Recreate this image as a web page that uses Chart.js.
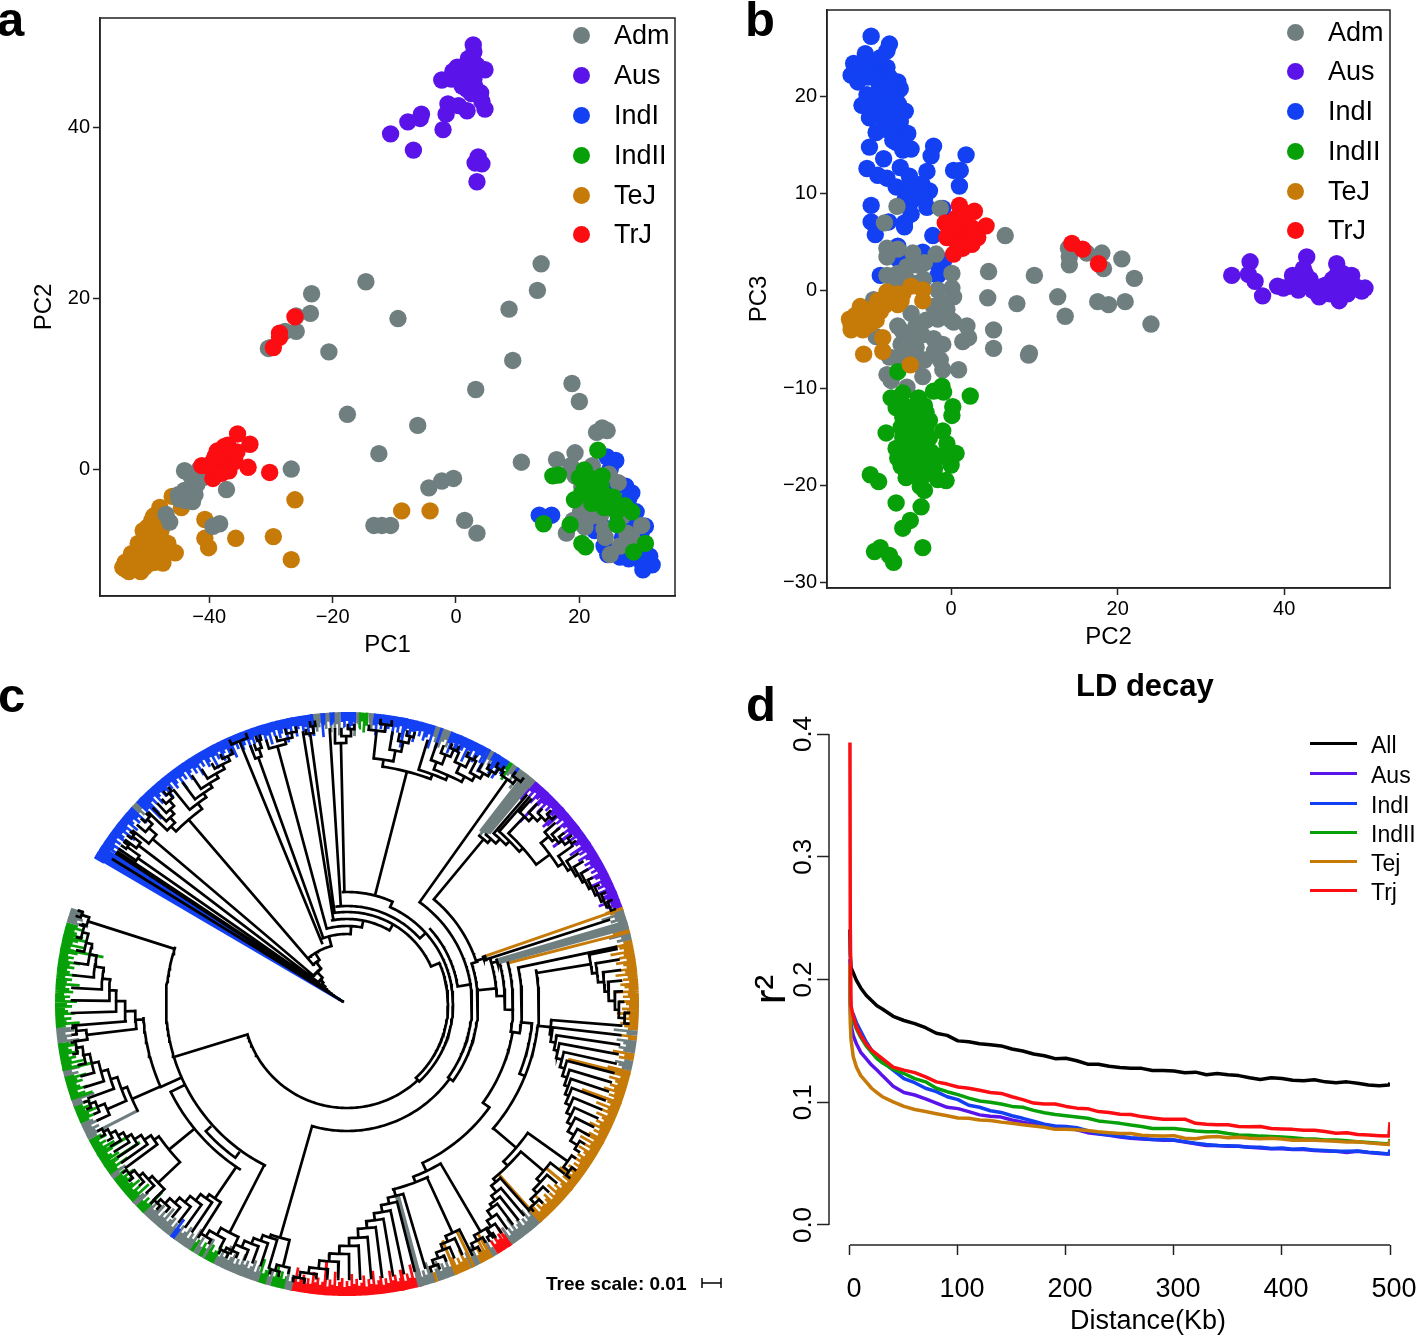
<!DOCTYPE html>
<html>
<head>
<meta charset="utf-8">
<title>Rice population structure</title>
<script src="https://cdn.jsdelivr.net/npm/chart.js@4/dist/chart.umd.min.js"></script>
<style>
    html, body { margin: 0; padding: 0; background: #fff; overflow: hidden; }
    body { position: relative; width: 1418px; height: 1335px; font-family: "Liberation Sans", Arial, sans-serif; color: #000; }
    canvas { position: absolute; }
    .txt { position: absolute; line-height: 1; white-space: nowrap; }
    .dot { position: absolute; width: 17px; height: 17px; border-radius: 50%; }
    .dash { position: absolute; width: 47px; height: 3px; }
</style>
</head>
<body>
<canvas id="chartA" width="700" height="660" style="left:0;top:0"></canvas>
<canvas id="chartB" width="698" height="653" style="left:720px;top:0"></canvas>
<canvas id="chartC" width="700" height="610" style="left:40px;top:700px"></canvas>
<canvas id="chartD" width="678" height="665" style="left:740px;top:670px"></canvas>

<script>
const GREY = "#6f7f80", PURPLE = "#5a14ea", BLUE = "#1240f2", GREEN = "#08a008", ORANGE = "#c67a08", RED = "#fb0d12";

const LEGEND_AB = ["Adm", "Aus", "IndI", "IndII", "TeJ", "TrJ"];
const LEGEND_AB_COLORS = [GREY, PURPLE, BLUE, GREEN, ORANGE, RED];

// panel a, PC1 / PC2
const A_X_TICKS = [-40, -20, 0, 20];
const A_Y_TICKS = [0, 20, 40];
const A_ADM = [[13.8,24],[13.2,20.9],[8.6,18.7],[9.2,12.7],[3.2,9.3],[18.8,10],[20,7.9],[-14.6,21.9],[-9.4,17.6],[-23.4,20.5],[-23.6,18.2],[-25.9,17.9],[-25.9,16.1],[-27.7,16.1],[-20.6,13.7],[-30.4,14.1],[-30.1,14.2],[-17.6,6.4],[-6.2,5.1],[-12.5,1.8],[10.6,0.8],[-26.7,0],[-37.2,-2.4],[-4.4,-2.2],[-2.3,-1.4],[-0.4,-1.1],[1.4,-6],[3.4,-7.5],[-13.3,-6.6],[-12,-6.6],[-10.6,-6.6],[-39.4,-6.7],[-38.3,-6.4],[-44,-0.2],[-41.6,0],[-43,-0.8],[-42,-1.8],[-43,-2.8],[-42.3,-3],[-44.9,-3.5],[-43.8,-3.7],[-42.7,-3.8],[-47,-5.3],[-46.4,-6.2],[23.7,4.8],[22.8,4.3],[24.5,4.5],[16.3,1.1],[19.3,1.9],[18.6,0.4],[19.3,-0.8],[20.4,-2.1],[22.1,0.4],[26.3,-1.6],[22.5,-4.2],[20.2,-5],[25.4,-4.5],[23.4,-5.5],[20.9,-6.8],[17.9,-7.5],[24.2,-8],[27.7,-7.5],[30.1,-6.6],[26.6,-9],[24.8,-0.6],[21,-3.5],[23,-2.5],[24,-7],[27,-5.5],[19,-6],[28.5,-8],[25,-10],[22,-5.5],[-41,-1],[-44,-2.5],[-45,-3]];
const A_AUS = [[2.8,49.6],[2.9,48.8],[4.7,46.7],[-2.3,45.5],[-0.7,45.6],[1.1,46.6],[1.8,47.4],[2.9,47.6],[0.4,46.1],[2.2,46.4],[3.3,46.6],[1.5,45.4],[2.9,45.6],[1.8,44.4],[4,44],[4.2,43],[4.7,42.1],[-1.3,42.7],[0.4,42.5],[1.8,41.9],[-1.6,41.5],[-5.6,41.5],[-5.8,41],[-7.8,40.6],[-10.6,39.2],[-2.1,39.7],[-6.9,37.3],[3.6,36.5],[3.1,35.8],[4.2,35.7],[3.4,33.6],[1,45.5],[2.3,45],[3,44.8],[0.2,47],[2,48],[3.4,47.2],[1,44.8],[-0.5,46.5],[2.5,43.9]];
const A_IND1 = [[24.5,1.4],[25.9,1],[28.5,-2.8],[29.2,-5],[13.5,-5.4],[15.5,-5.4],[23.7,-6.7],[26.3,-6],[30.7,-6.7],[24.6,-10],[26.6,-10.3],[27.7,-9.7],[29.9,-10.7],[31.4,-10.2],[31.8,-11.2],[30.3,-11.8],[29,-9],[30.5,-9.5],[28,-3.5],[22.5,-7.2],[29.2,-8.4],[27,-8],[28,-10.5],[30,-7.5],[28,-6.5],[25,0],[26,-2],[27.5,-2],[24,-9]];
const A_IND2 = [[23,2.2],[15.7,-0.8],[16.6,-0.7],[19.2,-3.6],[20.8,-0.1],[21.9,-1.1],[23.7,-0.8],[20.4,-2.8],[22.6,-2.6],[24.1,-3],[25.5,-3.3],[27.4,-4.3],[28.5,-5],[14.2,-6.4],[18.5,-6.5],[26.1,-6.5],[20.4,-8.7],[21,-9.1],[28.8,-9.7],[30.7,-8.7],[21.5,-2],[23.5,-1.9],[22,-4],[24,-4.5],[26,-5],[23,-3.5],[20,-1],[25,-4]];
const A_TEJ = [[-8.8,-4.9],[-4.2,-4.9],[-26.1,-3.6],[-40.7,-5.9],[-40.7,-8.1],[-40.1,-9.2],[-35.7,-8.1],[-29.6,-7.9],[-26.7,-10.6],[-46,-3.2],[-48,-4.5],[-44.5,-4.5],[-45.5,-9.8],[-53.6,-11.7],[-52.6,-11.2],[-51.1,-12],[-48.8,-10.9],[-51.8,-10.2],[-50.4,-9.7],[-48.9,-9.2],[-51.5,-8.7],[-50,-8.2],[-48.2,-8.2],[-46.7,-8.7],[-50.7,-7.2],[-48.9,-7],[-47.8,-7.2],[-49.3,-6],[-48.2,-6.2],[-50.4,-10.9],[-53.6,-10.9],[-52.6,-9.9],[-49.6,-10.2],[-47.4,-9.7],[-51.8,-11.4],[-49.2,-8.7],[-52,-11],[-50.5,-11.5],[-49.5,-11],[-47.5,-11],[-51,-9],[-50,-9],[-48,-9.5],[-47,-9],[-49.5,-7.5],[-50,-6.8],[-49,-5.5],[-52,-10.5],[-53,-12],[-54,-11.5]];
const A_TRJ = [[-35.4,4.1],[-33.4,2.9],[-33.7,0.2],[-30.2,-0.4],[-39.4,-1.1],[-41.2,0.4],[-37.6,2.6],[-38.7,2.1],[-36.5,2.1],[-38,1.4],[-36.1,1.4],[-39.4,0.9],[-37.2,0.6],[-38.7,0.1],[-40.1,0.4],[-35.8,0.9],[-26.1,17.8],[-28.6,15.9],[-28.6,15.4],[-29.6,14.2],[-37,1],[-39,1.5],[-37.5,1.8],[-36.8,-0.2],[-38,-0.5],[-37,2.8],[-35.5,2]];

// panel b, PC2 / PC3
const B_X_TICKS = [0, 20, 40];
const B_Y_TICKS = [-30, -20, -10, 0, 10, 20];
const B_ADM = [[-6.5,8.7],[-1.3,8.5],[-8,7],[6.5,5.7],[-7.7,4.4],[-6.4,4.3],[-7.7,3.5],[-4.6,3.9],[-1.8,3.8],[-3.2,2.9],[-4.2,2.7],[-5.3,2.5],[-7.7,1.6],[-6.4,1.8],[-5.3,1.2],[-3.3,1.2],[0.1,1.8],[4.5,2],[10,1.6],[-1.6,0.1],[0.1,0.3],[-9.3,-0.9],[0.3,-0.6],[4.4,-0.7],[7.9,-1.3],[12.8,-0.6],[-2.1,-1.6],[-0.5,-1.9],[13.7,-2.6],[17.6,-1.1],[18.9,-1.4],[20.9,-1.1],[24,-3.4],[22,1.3],[20.5,3.3],[18.1,3.9],[18.3,2.3],[16.3,3.9],[14.1,4.4],[14.2,3.5],[14.2,2.7],[-1.6,-2.9],[0.3,-3.2],[1.9,-3.6],[1.4,-5.2],[2.1,-4.8],[5.1,-4],[5.1,-5.9],[9.3,-6.6],[9.4,-6.4],[-4.8,-2.3],[-6.4,-3.6],[-4.2,-3.6],[-9,-4.7],[-5.8,-4.2],[-2.1,-4.9],[-1,-5.5],[-4.2,-5.8],[-3.2,-7.1],[-4.8,-6.6],[-7.4,-6.8],[-6.4,-6.8],[-1.3,-7.1],[-1,-8.1],[0.9,-8.1],[-3.4,-8.8],[-7.7,-8.6],[-7.2,-9.2],[-5.3,-9.9],[-4,0.8],[-6.5,0.5],[-3,-3],[-5,-5],[-3.5,-4.5],[-2,-6.2],[-4,-7.5],[-6,-5.5],[-1,-1.2],[0,-3]];
const B_AUS = [[33.7,1.6],[35.9,3],[35.7,1.7],[36.5,1],[37.4,-0.5],[39.2,0.5],[39.9,0.3],[41,1.6],[42.7,3.5],[42.3,2.3],[41.7,0.1],[43.1,1.2],[44.2,-0.6],[44.7,0.5],[46.3,2.8],[46.3,1.6],[48.1,1.6],[46.6,-1],[45.5,-0.3],[47.6,-0.3],[49.3,0],[49.7,0.3],[41.8,1.4],[40.7,0.5],[43.4,0.1],[47.1,0.5],[45,0],[42,1.5],[43,0.5],[44,0.2],[45,0.6],[46,0],[46.5,0.8],[47.5,1],[48,0.2],[46.8,-0.4],[45.8,1.2],[44,-0.3],[42.5,1.8],[41.2,1],[48.5,0.5],[47,1.8]];
const B_IND1 = [[-9.6,26.2],[-7.4,25.4],[-7.7,24.7],[-10.3,24.4],[-11.7,23.4],[-12,22.2],[-11.2,21.5],[-9.3,23.5],[-7.7,23],[-9,22.2],[-7.4,22],[-6.4,21.5],[-8.6,21.1],[-6.1,20.8],[-10.1,20.2],[-8,20.2],[-6.6,20.2],[-10.7,19.1],[-9.3,18.9],[-8,19.2],[-6.3,19.2],[-9.8,17.8],[-6.1,17.4],[-9,16.3],[-7.7,16.6],[-6.4,16.6],[-5.2,16.2],[-6.6,15.3],[-9.8,14.8],[-5.8,14.5],[-4.8,14.6],[-2.1,14.9],[-2.4,13.9],[1.8,14],[-8.1,13.6],[-10.1,12.6],[-6.1,12.7],[-8.8,11.9],[-7.7,11.6],[-5,11.8],[-2.9,12.3],[0.3,12.4],[1.1,12.4],[1,10.8],[-6.6,10.7],[-5.3,10.3],[-2.6,10.3],[-4.2,9.6],[-3.2,9.4],[-4.8,9.2],[-9.6,8.8],[-2.9,8.6],[-1,8.5],[-4.8,7.9],[-9.6,7.1],[-7.5,7.1],[-5.6,7],[-9.1,5.8],[-5.6,6.6],[-2.2,5.7],[-6.4,4.6],[-6.4,3.3],[-3.4,4],[-0.9,3.1],[-8.5,1.6],[-1.6,1.6],[-1.8,2.9],[-10,22],[-8,21],[-7,20.5],[-9,20],[-10,19],[-8.5,18],[-7,18],[-5.5,18.5],[-8,17],[-7,15.5],[-6,15],[-10.5,22.5],[-11,23],[-8.5,24],[-7.5,21],[-5,10.8],[-4,10],[-3.5,11],[-5.5,9.5]];
const B_IND2 = [[-6.4,-8.3],[-1.1,-9.8],[-2.1,-10.3],[-0.9,-10.4],[2.3,-10.8],[-7.2,-11],[-5.8,-10.5],[-3.9,-11],[-6.6,-12],[-3.2,-11.8],[0.2,-11.9],[0.1,-12.8],[-4.8,-12.7],[-2.6,-13.3],[-7.8,-14.6],[-1,-14.4],[-4.8,-14.2],[-3.7,-14.6],[-5.8,-15.1],[-2.6,-15.1],[-6.6,-16.2],[-4.8,-15.9],[-3.4,-16.2],[-0.5,-15.7],[0.6,-16.7],[-2.1,-16.8],[-6.4,-17.2],[-4.2,-17],[-5.3,-17.9],[-3.2,-17.9],[0,-17.9],[-9.7,-18.9],[-8.7,-19.6],[-5.4,-19.2],[-4.2,-18.8],[-1.6,-19.4],[-0.6,-19.5],[-3.7,-20.1],[-3.2,-20.5],[-6.6,-21.8],[-3.6,-22.2],[-4.9,-23.6],[-5.8,-24.4],[-9.2,-26.8],[-8.5,-26.4],[-3.4,-26.4],[-7.4,-27.2],[-6.9,-27.9],[-5,-13.5],[-4,-13],[-3,-14],[-6,-14],[-4,-15.5],[-3,-15.5],[-5.5,-16.5],[-2.5,-16.5],[-4.5,-16.8],[-3.5,-17.2],[-6,-18],[-2,-18.3],[-4.5,-18.2],[-1,-17],[-5,-12],[-3,-12.5],[-6,-11.5],[-3.3,-19],[-5.8,-13]];
const B_TEJ = [[-10.5,-6.5],[-8.2,-4.8],[-8.2,-6.2],[-4.9,-7.6],[-3.4,0.1],[-3.4,-1],[-12,-4],[-12.2,-2.9],[-10.9,-1.6],[-11.2,-2.9],[-10.1,-2.5],[-10.6,-4],[-9.3,-2.1],[-8.8,-1],[-7.7,-0.1],[-6.4,-1.4],[-7.2,-1],[-5.8,-0.3],[-4.8,0.5],[-8.5,-2.1],[-11.8,-3.4],[-9.7,-3.4],[-11.5,-2.5],[-11,-3.8],[-10.5,-3],[-10,-2],[-9,-1.5],[-8,-1.5],[-7,-0.5],[-6.5,-0.3],[-6,-1],[-9,-3],[-12,-3.5],[-8,-0.8]];
const B_TRJ = [[1,8.8],[2.8,8.2],[4.2,6.7],[-0.7,7],[0.6,7.5],[1.9,6.6],[-0.5,5.5],[1.1,5.5],[3,6.2],[2.5,4.8],[1.4,4.4],[0.3,3.8],[1.1,6.4],[0.1,6.2],[2.2,5.7],[14.5,4.9],[15.8,4.3],[17.7,2.8],[0,7],[1.5,7.3],[2.5,6.5],[-0.3,6],[1.8,5],[0.8,4.7],[0.6,7],[1.7,7.9],[3.2,5.5]];

// panel d, LD decay
const D_X_TICKS = [0, 100, 200, 300, 400, 500];
const D_Y_TICKS = [0, 0.1, 0.2, 0.3, 0.4];
const D_LEGEND = ["All", "Aus", "IndI", "IndII", "Tej", "Trj"];
const D_LEGEND_COLORS = ["#000000", PURPLE, BLUE, GREEN, ORANGE, RED];
const DISTANCE_KB = [0,0.3,1,3,6,10,15,20,25,30,40,50,60,70,80,90,100,110,120,130,140,150,160,170,180,190,200,210,220,230,240,250,260,270,280,290,300,310,320,330,340,350,360,370,380,390,400,410,420,430,440,450,460,470,480,490,499,500];
const LD_ALL = [.2407,.220,.2097,.2055,.1993,.1931,.1872,.1828,.1786,.1759,.170,.1666,.1641,.1607,.1562,.1545,.150,.1493,.1476,.1469,.1459,.1434,.1417,.1393,.1379,.1355,.1359,.1338,.131,.131,.1293,.1283,.1276,.1276,.1259,.1259,.1255,.1241,.1245,.1224,.1234,.1224,.1217,.12,.1186,.12,.1193,.1179,.1176,.1183,.1166,.1159,.1166,.1155,.1141,.1134,.1141,.1159];
const LD_AUS = [.2028,.1752,.1631,.1545,.1476,.1407,.1355,.1303,.1262,.1217,.1131,.1079,.1059,.1028,.0993,.0959,.0948,.0924,.0897,.0886,.0879,.0855,.0838,.0821,.0814,.0793,.0793,.0776,.0752,.0741,.0731,.0717,.0707,.07,.0697,.069,.069,.0676,.0662,.0648,.0648,.0641,.0641,.0634,.0628,.0621,.0621,.0614,.0614,.0607,.0603,.06,.059,.06,.059,.0583,.0579,.059];
const LD_IND1 = [.2166,.1855,.1752,.1717,.1648,.1579,.1493,.1424,.1372,.1331,.1262,.1193,.1159,.1114,.1086,.1045,.1021,.0976,.0959,.0931,.0917,.089,.0869,.0845,.0821,.0807,.0803,.0793,.0769,.0745,.0734,.0724,.071,.0707,.0697,.0697,.0693,.0679,.0666,.0655,.0648,.0645,.0641,.0634,.0634,.0624,.0628,.0617,.0621,.061,.0607,.06,.06,.0603,.0593,.0586,.0579,.0614];
const LD_IND2 = [.2097,.1821,.1717,.1666,.1597,.1528,.1459,.1407,.1355,.1321,.1269,.1234,.1193,.1166,.1114,.1086,.1062,.1034,.101,.1,.0986,.0966,.0959,.0934,.0914,.09,.089,.0879,.0869,.0848,.0838,.0828,.0814,.0803,.0786,.0786,.0786,.0776,.0766,.0759,.0759,.0745,.0734,.0731,.0724,.0721,.0717,.071,.0703,.07,.0693,.0693,.0686,.0679,.0672,.0666,.0659,.07];
const LD_TEJ = [.2131,.1648,.151,.1372,.1286,.1217,.1166,.1114,.1079,.1045,.1003,.0966,.0941,.0924,.0907,.089,.0872,.0869,.0855,.0852,.0838,.0828,.0817,.0807,.0797,.0779,.0779,.0776,.0769,.0759,.0752,.0745,.0745,.0731,.0728,.0724,.0728,.0707,.0703,.0717,.0721,.071,.0714,.0707,.0703,.0707,.07,.069,.0693,.069,.0686,.0683,.0676,.0679,.0669,.0662,.0655,.069];
const LD_TRJ = [.3931,.2441,.1786,.17,.1614,.1545,.1476,.1424,.139,.1355,.1286,.1262,.1241,.1207,.1166,.1148,.1124,.1114,.1097,.1079,.1072,.1045,.1021,.0993,.0986,.0986,.0966,.0952,.0948,.0924,.0917,.0903,.09,.0883,.0872,.0862,.0862,.0862,.0828,.0821,.0817,.0817,.0803,.08,.0803,.0786,.0783,.0779,.0772,.0772,.0762,.0748,.0752,.0738,.0734,.0728,.0724,.0838];

// panel c, tree: angles are degrees clockwise from north, radii in tree units
const TREE_R = 292;
const RIM_BANDS = [[-59.8,-47.4,BLUE],[-47.4,-46,GREY],[-46,-6.7,BLUE],[-6.7,-5,GREY],[-5,-4.3,BLUE],[-4.3,-3.2,GREY],[-3.2,-2.5,BLUE],[-2.5,-1,GREY],[-1,1.6,BLUE],[1.6,2.5,GREY],[2.5,4.5,GREEN],[4.5,5.5,GREY],[5.5,18,BLUE],[18,21.2,GREY],[21.2,29,BLUE],[29,30.6,GREY],[30.6,34,BLUE],[34,35,GREEN],[35,40.3,GREY],[40.3,70.7,PURPLE],[70.7,71.3,ORANGE],[71.3,75.3,GREY],[75.3,76,ORANGE],[76,77.5,GREY],[77.5,95.5,ORANGE],[95.5,96.5,GREY],[96.5,97.5,ORANGE],[97.5,100,GREY],[100,101.5,ORANGE],[101.5,103.5,GREY],[103.5,138.3,ORANGE],[138.3,145.7,GREY],[145.7,149.2,RED],[149.2,150,GREY],[150,153,ORANGE],[153,155,GREY],[155,158.5,ORANGE],[158.5,162,GREY],[162,162.6,ORANGE],[162.6,165,GREY],[165,191.2,RED],[191.2,192.5,GREY],[192.5,195.5,GREEN],[195.5,196.3,GREY],[196.3,198,GREEN],[198,207.4,GREY],[207.4,209.5,GREEN],[209.5,210,GREY],[210,211,GREEN],[211,212,GREY],[212,212.8,GREEN],[212.8,216.6,GREY],[216.6,217.2,BLUE],[217.2,224.6,GREY],[224.6,226.5,GREEN],[226.5,227.2,GREY],[227.2,233.4,GREEN],[233.4,234,GREY],[234,242.5,GREEN],[242.5,246,GREY],[246,249.6,GREEN],[249.6,251,GREY],[251,255.8,GREEN],[255.8,257,GREY],[257,262.5,GREEN],[262.5,265.5,GREY],[265.5,286.5,GREEN],[286.5,289.3,GREY]];
const TIP_DEPTHS = [11,16,9,20,13,10,17,12,22,10,15,9,18,14,10,24];
// long coloured branches: angle, inner radius, colour
const LONG_LEAVES = [[-45,262,BLUE],[-7,270,BLUE],[11.7,262,BLUE],[19,270,BLUE],[23,274,BLUE],[29.3,266,BLUE],[31.5,270,BLUE],[36,281,BLUE],[37.7,218,GREY],[38.6,219,GREY],[39,219,GREY],[39.8,222,GREY],[43.5,251,PURPLE],[47.9,264,PURPLE],[52.7,259,PURPLE],[56.5,275,PURPLE],[67.5,277,PURPLE],[74.2,156,GREY],[104,228,ORANGE],[110,250,ORANGE],[118.5,270,ORANGE],[129.5,259,ORANGE],[138.3,228,ORANGE],[154.2,252,ORANGE],[150.3,264,ORANGE],[158,255,ORANGE],[165,198,GREY],[165.6,198,GREY],[168.7,271,RED],[165.5,272,RED],[146,270,RED],[184.5,257,RED],[224.5,264,GREEN],[236.3,249,GREEN],[238.8,255,GREEN],[251,269,GREEN],[257,261,GREEN],[280.9,248,GREEN],[283.4,267,GREEN]];
// the concentric trunk: radius, from angle, to angle
const TRUNK_ARCS = [[60,-40,-15],[70,-21,3],[78,-15,11],[85,-10,30],[92,-8,66],[98,-6,48],[112,-2,24],[106,24,137],[112,48,81],[101,66,137],[125,35.6,126],[136,40,72],[131,72,126],[146,70.9,72.5],[150,72.5,87],[158,75.7,92],[166,75.7,99.6],[175,78,99.6],[192,80,130.5],[186,96,112],[168,99.6,126],[176,126,154.6],[185,149.6,159],[191,155,166],[104,137,253],[127,126,196],[181,207,288],[190,216,228],[197,213,243.5],[204,246,266]];
// short joins between trunk arcs: angle, inner radius, outer radius
const TRUNK_STEMS = [[-15,60,70],[3,70,78],[11,78,85],[30,85,92],[66,92,101],[48,98,106],[24,106,112],[81,112,125],[72,131,137],[126,125,131],[137,101,106],[84,131,150],[87,150,158],[92,158,166],[99.6,166,175],[96,175,186],[112,186,192],[126,168,176],[154.6,176,185],[159,185,191],[253,104,181],[243.5,181,197],[246,181,204],[216,184,190],[228,184,190]];
// coloured tips and black steps of the small clades
function C(a, c) { return { a: a, c: c }; }
function lad(a0, a1, rs) {
    var d = (a1 - a0) / rs.length;
    var node = a1;
    for (var i = rs.length - 1; i >= 0; i--)
        node = [rs[i], a0 + i * d, node];
    return node;
}
const CLADES = [
    [null, [5, C(-59.6,BLUE), [9, C(-59.1,BLUE), [13, C(-58.7,BLUE), [16, -58.3, [19, C(-57.9,BLUE), [22, C(-57.4,BLUE), [25, -56.9, [28, -56.4, [32, lad(-55.8,-54,[255,270]), [36, lad(-53.5,-51.5,[262,272]), [44, lad(-51,-46.5,[255,265,272]), [52, [243, lad(-46,-39.5,[250,257,263,270,276]), lad(-39,-24.5,[250,255,260,265,270,275])], { a:-32, to:60 }]]]]]]]]]]]]],
    [66, lad(-24,-20.5,[284])],
    [70, lad(-20.5,-18,[262,270,278])],
    [78, lad(-17,-10.5,[267,272,277])],
    [85, -9.2],
    [92, lad(-8.5,-6.5,[273,280])],
    [98, -3.6],
    [112, lad(-2.5,1.5,[261,268,275])],
    [112, [240, [247, lad(4.5,9,[275,282]), lad(9.5,14,[258,268,275])], [245, 17, [250, lad(19,23.5,[258,268,276]), [256, lad(24,27.5,[265,275]), lad(28,33.5,[262,268,274,280])]]]]],
    [125, lad(34,38,[276,282])],
    [136, [214, C(38.2,GREY), [219, C(39.4,GREY), [225, 40.7, [230, 41.4, [235, lad(42,48,[258,264,270,276]), [252, lad(49,54.5,[262,266,270,276]), lad(55,70.5,[258,262,265,268,271,274,277,280])]]]]]]],
    [137, [144, C(70.9,ORANGE), 72.2]],
    [150, [156, C(73.6,GREY), C(74.8,GREY)]],
    [166, C(75.7,ORANGE)],
    [175, 78],
    [192, lad(78.5,94,[247,252,258,262,268,272,278])],
    [192, lad(94.5,122.5,[205,207,212,216,222,227,232,236,240,245,250,255,262,270])],
    [192, [222, lad(124,128,[271,278]), [228, lad(128,138,[258,263,268,274]), lad(138.6,149,[232,240,246,250,258,265,272])]]],
    [185, lad(148,153.5,[264,270,276])],
    [191, lad(153.5,162.5,[252,258,264,270,276])],
    [191, lad(163.5,191,[198,204,211,218,225,234,242,250,258,266,272,278])],
    [127, [243, lad(192.3,196,[270,276]), lad(196.5,207.2,[246,252,258,265,272,276])]],
    [181, lad(205,212.5,[257,265,272])],
    [197, lad(212.5,224.5,[235,240,248,256,263,270,275])],
    [197, [230, lad(224.6,233,[260,265,270,276]), lad(233.5,243,[236,244,252,258,264,270,275])]],
    [204, [235, C(243,GREY), [241, lad(245,249.5,[262,270,276]), lad(250,262,[248,255,262,268,274])]]],
    [204, [212, lad(262.2,265,[262,272]), lad(265.5,286.5,[222,231,238,246,255,262,268,274])]],
    [181, lad(286.8,289.2,[272,280])]
];
const SCALE_BAR_X = [355, 374];
const SCALE_BAR_Y = -279;


function minusSign(value) {
    return String(value).replace("-", "\u2212");
}

function addText(text, left, top, size, extra) {
    var el = document.createElement("div");
    el.className = "txt";
    el.textContent = text;
    el.style.left = left + "px";
    el.style.top = top + "px";
    el.style.fontSize = size + "px";
    if (extra) el.style.cssText += extra;
    document.body.appendChild(el);
    return el;
}

function addDotLegend(dotX, textX, rows) {
    LEGEND_AB.forEach(function (name, i) {
        var dot = document.createElement("div");
        dot.className = "dot";
        dot.style.left = (dotX - 8.5) + "px";
        dot.style.top = (rows[i] - 8.5) + "px";
        dot.style.background = LEGEND_AB_COLORS[i];
        document.body.appendChild(dot);
        addText(name, textX, rows[i] - 13, 27);
    });
}

// the labels at the ends of an axis must not push the plot area in
function noAxisMargins(scale) {
    scale.paddingLeft = 0;
    scale.paddingRight = 0;
    scale.paddingTop = 0;
    scale.paddingBottom = 0;
}

// draws the box round the plot, only two sides come from the axes
const framePlugin = {
    id: "frame",
    afterDraw: function (chart) {
        if (!chart.options.plugins.frame) return;
        var a = chart.chartArea, ctx = chart.ctx;
        ctx.save();
        ctx.strokeStyle = "#222";
        ctx.lineWidth = 1.5;
        ctx.strokeRect(a.left, a.top, a.right - a.left, a.bottom - a.top);
        ctx.restore();
    }
};

function pcaChart(id, groups, cfg) {
    return new Chart(document.getElementById(id), {
        type: "scatter",
        data: {
            datasets: groups.map(function (g) {
                return { label: g[0], data: g[1], backgroundColor: g[2], borderWidth: 0, pointRadius: 8.7, pointHoverRadius: 8.7 };
            })
        },
        options: {
            responsive: false,
            animation: false,
            devicePixelRatio: 1,
            layout: { padding: cfg.padding },
            plugins: { legend: { display: false }, tooltip: { enabled: false }, frame: true },
            scales: {
                x: {
                    type: "linear", min: cfg.x[0], max: cfg.x[1],
                    afterFit: function (s) { s.height = cfg.bottomH; noAxisMargins(s); },
                    afterBuildTicks: function (s) { s.ticks = cfg.xTicks.map(function (v) { return { value: v }; }); },
                    border: { color: "#222", width: 1.5 },
                    grid: { drawOnChartArea: false, tickLength: 7, tickColor: "#222", tickWidth: 1.5 },
                    ticks: { font: { size: 20 }, color: "#000", padding: 2, maxRotation: 0, callback: minusSign },
                    title: { display: true, text: cfg.xTitle, font: { size: 24 }, color: "#000", padding: cfg.xTitlePad }
                },
                y: {
                    type: "linear", min: cfg.y[0], max: cfg.y[1],
                    afterFit: function (s) { s.width = cfg.leftW; noAxisMargins(s); },
                    afterBuildTicks: function (s) { s.ticks = cfg.yTicks.map(function (v) { return { value: v }; }); },
                    border: { color: "#222", width: 1.5 },
                    grid: { drawOnChartArea: false, tickLength: 7, tickColor: "#222", tickWidth: 1.5 },
                    ticks: { font: { size: 20 }, color: "#000", padding: 3, callback: minusSign },
                    title: { display: true, text: cfg.yTitle, font: { size: 24 }, color: "#000", padding: cfg.yTitlePad }
                }
            }
        },
        plugins: [framePlugin]
    });
}

function initTree() {
    var segs = { black: [] };
    var thick = {};
    var tips = {};
    var leafEnd = 275;

    function toPoint(a, r) {
        var t = a * Math.PI / 180;
        return { x: r * Math.sin(t), y: r * Math.cos(t) };
    }
    function pushRadial(list, a, r0, r1) {
        list.push(toPoint(a, r0), toPoint(a, r1), { x: NaN, y: NaN });
    }
    function pushArc(list, r, a0, a1) {
        var n = Math.max(1, Math.ceil(Math.abs(a1 - a0)));
        for (var i = 0; i <= n; i++)
            list.push(toPoint(a0 + (a1 - a0) * i / n, r));
        list.push({ x: NaN, y: NaN });
    }
    function place(node, rParent) {
        if (typeof node === "number") {
            pushRadial(segs.black, node, rParent, Math.max(rParent + 4, leafEnd));
            return node;
        }
        if (!Array.isArray(node)) {
            if (node.to)
                pushRadial(segs.black, node.a, rParent, node.to);
            else {
                thick[node.c] = thick[node.c] || [];
                pushRadial(thick[node.c], node.a, rParent, TREE_R);
            }
            return node.a;
        }
        var r = node[0];
        var first = place(node[1], r);
        var last = place(node[node.length - 1], r);
        pushArc(segs.black, r, first, last);
        var mid = (first + last) / 2;
        if (rParent !== null)
            pushRadial(segs.black, mid, rParent, r);
        return mid;
    }

    TRUNK_ARCS.forEach(function (t) { pushArc(segs.black, t[0], t[1], t[2]); });
    TRUNK_STEMS.forEach(function (t) { pushRadial(segs.black, t[0], t[1], t[2]); });
    CLADES.forEach(function (c) { place(c[1], c[0]); });

    LONG_LEAVES.forEach(function (l) {
        thick[l[2]] = thick[l[2]] || [];
        pushRadial(thick[l[2]], l[0], l[1], TREE_R);
    });

    var k = 0;
    RIM_BANDS.forEach(function (b) {
        tips[b[2]] = tips[b[2]] || [];
        for (var a = b[0]; a < b[1]; a += 0.5) {
            pushRadial(tips[b[2]], a, TREE_R - TIP_DEPTHS[k % TIP_DEPTHS.length], TREE_R);
            k++;
        }
    });

    var lineBase = { showLine: true, pointRadius: 0, spanGaps: false, tension: 0, borderJoinStyle: "miter" };
    var datasets = [];
    datasets.push(Object.assign({ data: segs.black, borderColor: "#000", borderWidth: 2.7, borderCapStyle: "square" }, lineBase));
    Object.keys(thick).forEach(function (c) {
        datasets.push(Object.assign({ data: thick[c], borderColor: c, borderWidth: 3, borderCapStyle: "butt" }, lineBase));
    });
    Object.keys(tips).forEach(function (c) {
        datasets.push(Object.assign({ data: tips[c], borderColor: c, borderWidth: 2.7, borderCapStyle: "butt" }, lineBase));
    });
    // scale bar with its two end caps
    var bar = [
        { x: SCALE_BAR_X[0], y: SCALE_BAR_Y - 5 }, { x: SCALE_BAR_X[0], y: SCALE_BAR_Y + 5 }, { x: NaN, y: NaN },
        { x: SCALE_BAR_X[0], y: SCALE_BAR_Y }, { x: SCALE_BAR_X[1], y: SCALE_BAR_Y }, { x: NaN, y: NaN },
        { x: SCALE_BAR_X[1], y: SCALE_BAR_Y - 5 }, { x: SCALE_BAR_X[1], y: SCALE_BAR_Y + 5 }
    ];
    datasets.push(Object.assign({ data: bar, borderColor: "#000", borderWidth: 1.5 }, lineBase));

    new Chart(document.getElementById("chartC"), {
        type: "scatter",
        data: { datasets: datasets },
        options: {
            responsive: false,
            animation: false,
            devicePixelRatio: 1,
            layout: { padding: 0 },
            plugins: { legend: { display: false }, tooltip: { enabled: false } },
            scales: {
                x: { type: "linear", min: -307, max: 393, display: false },
                y: { type: "linear", min: -306, max: 304, display: false }
            }
        }
    });
}

function initLd() {
    var series = [
        [LD_TRJ, RED], [LD_TEJ, ORANGE], [LD_IND2, GREEN], [LD_IND1, BLUE], [LD_AUS, PURPLE], [LD_ALL, "#000000"]
    ];
    var xLeft = -19.4, yBottom = -0.0163;
    var datasets = series.map(function (s) {
        return {
            data: s[0].map(function (v, i) { return { x: DISTANCE_KB[i], y: v }; }),
            showLine: true, pointRadius: 0, borderColor: s[1], borderWidth: 3.5, tension: 0, borderJoinStyle: "round"
        };
    });
    // R style detached axis lines, they only run between the end ticks
    datasets.push({ data: [{ x: xLeft, y: D_Y_TICKS[0] }, { x: xLeft, y: D_Y_TICKS[4] }], showLine: true, pointRadius: 0, borderColor: "#222", borderWidth: 1.5, clip: false });
    datasets.push({ data: [{ x: D_X_TICKS[0], y: yBottom }, { x: D_X_TICKS[5], y: yBottom }], showLine: true, pointRadius: 0, borderColor: "#222", borderWidth: 1.5, clip: false });

    new Chart(document.getElementById("chartD"), {
        type: "scatter",
        data: { datasets: datasets },
        options: {
            responsive: false,
            animation: false,
            devicePixelRatio: 1,
            layout: { padding: { top: 64, right: 28 } },
            plugins: { legend: { display: false }, tooltip: { enabled: false } },
            scales: {
                x: {
                    type: "linear", min: xLeft, max: 500,
                    afterFit: function (s) { s.height = 90; noAxisMargins(s); },
                    afterBuildTicks: function (s) { s.ticks = D_X_TICKS.map(function (v) { return { value: v }; }); },
                    border: { display: false },
                    grid: { drawOnChartArea: false, tickLength: 10, tickColor: "#222", tickWidth: 1.5 },
                    ticks: { font: { size: 27 }, color: "#000", padding: 18, maxRotation: 0, labelOffset: 4 }
                },
                y: {
                    type: "linear", min: yBottom, max: 0.4,
                    afterFit: function (s) { s.width = 89; noAxisMargins(s); },
                    afterBuildTicks: function (s) { s.ticks = D_Y_TICKS.map(function (v) { return { value: v }; }); },
                    border: { display: false },
                    grid: { drawOnChartArea: false, tickLength: 12, tickColor: "#222", tickWidth: 1.5 },
                    ticks: {
                        font: { size: 26 }, color: "#000", padding: -5, minRotation: 90, maxRotation: 90, crossAlign: "center",
                        callback: function (v) { return v.toFixed(1); }
                    },
                    title: { display: true, text: "r\u00b2", font: { size: 44 }, color: "#000", padding: { top: 6, bottom: 0 } }
                }
            }
        }
    });
}


pcaChart("chartA", [
    ["TrJ", A_TRJ, RED], ["Aus", A_AUS, PURPLE], ["IndII", A_IND2, GREEN], ["Adm", A_ADM, GREY], ["TeJ", A_TEJ, ORANGE], ["IndI", A_IND1, BLUE]
], {
    x: [-57.7, 35.5], y: [-14.85, 52.75], xTicks: A_X_TICKS, yTicks: A_Y_TICKS,
    xTitle: "PC1", yTitle: "PC2",
    padding: { top: 18, right: 25 }, bottomH: 64, leftW: 100,
    xTitlePad: { top: 0, bottom: 0 }, yTitlePad: { top: 30, bottom: 0 }
});

pcaChart("chartB", [
    ["TrJ", B_TRJ, RED], ["TeJ", B_TEJ, ORANGE], ["IndII", B_IND2, GREEN], ["Adm", B_ADM, GREY], ["IndI", B_IND1, BLUE], ["Aus", B_AUS, PURPLE]
], {
    x: [-14.9, 52.7], y: [-30.55, 28.9], xTicks: B_X_TICKS, yTicks: B_Y_TICKS,
    xTitle: "PC2", yTitle: "PC3",
    padding: { top: 10, right: 28 }, bottomH: 65, leftW: 107,
    xTitlePad: { top: 0, bottom: 1 }, yTitlePad: { top: 25, bottom: 0 }
});

initTree();
initLd();

addDotLegend(581, 614, [35, 75, 115, 155, 195, 234]);
addDotLegend(1295, 1328, [32, 71, 111, 151, 191, 230]);

D_LEGEND.forEach(function (name, i) {
    var rows = [743, 773, 803, 832, 861, 890];
    var dash = document.createElement("div");
    dash.className = "dash";
    dash.style.left = "1310px";
    dash.style.top = (rows[i] - 1.5) + "px";
    dash.style.background = D_LEGEND_COLORS[i];
    document.body.appendChild(dash);
    addText(name, 1371, rows[i] - 9, 23);
});

addText("a", -3, -5.5, 49, "font-weight:bold");
addText("b", 745, -5.5, 49, "font-weight:bold");
addText("c", -2, 670.5, 49, "font-weight:bold");
addText("d", 746, 679.5, 49, "font-weight:bold");
addText("LD decay", 1076, 670, 31, "font-weight:bold");
addText("Distance(Kb)", 1070, 1307, 27);
addText("Tree scale: 0.01", 546, 1274, 19, "font-weight:bold");
</script>
</body>
</html>
